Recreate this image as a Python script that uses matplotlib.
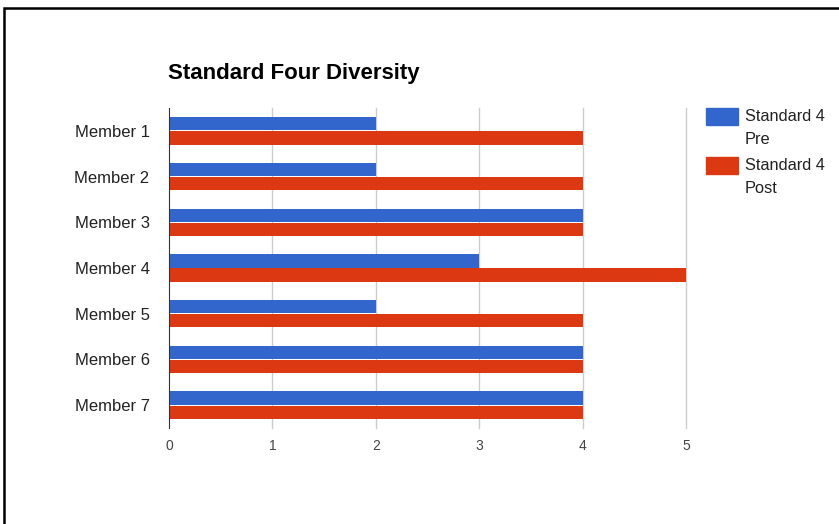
import numpy as np
import matplotlib.pyplot as plt
from matplotlib.patches import Rectangle

plt.rcParams['font.family'] = ['Liberation Sans', 'DejaVu Sans']

# Data
members = ['Member 1', 'Member 2', 'Member 3', 'Member 4', 'Member 5', 'Member 6', 'Member 7']
pre_scores = [2, 2, 4, 3, 2, 4, 4]
post_scores = [4, 4, 4, 5, 4, 4, 4]
series_labels = ['Standard 4\nPre', 'Standard 4\nPost']
x_ticks = [0, 1, 2, 3, 4, 5]

BLUE = '#3366cc'
RED = '#dc3912'
W, H = 839, 524

fig = plt.figure(figsize=(W / 100, H / 100), dpi=100)
ax = fig.add_axes([169 / W, 1 - 428 / H, 517 / W, 320 / H])

y = np.arange(len(members))
bar_h = 0.29
ax.barh(y - 0.155, pre_scores, height=bar_h, color=BLUE, zorder=3)
ax.barh(y + 0.155, post_scores, height=bar_h, color=RED, zorder=3)

ax.set_xlim(0, 5)
ax.set_ylim(len(members) - 0.5, -0.5)
ax.set_yticks(y)
ax.set_yticklabels(members, fontsize=12, color='#222222')
ax.set_xticks(x_ticks)
ax.set_xticklabels([str(t) for t in x_ticks], fontsize=10, color='#444444')
ax.tick_params(axis='both', length=0)
ax.tick_params(axis='y', pad=14)
ax.tick_params(axis='x', pad=8)

# vertical gridlines, drawn by hand so the one at 5 is not clipped
for t in x_ticks[1:]:
    ax.axvline(t, color='#cccccc', linewidth=1, zorder=0, clip_on=False)
for side in ['top', 'right', 'bottom']:
    ax.spines[side].set_visible(False)
ax.spines['left'].set_color('#333333')
ax.spines['left'].set_zorder(4)

fig.text(168 / W, 1 - 73 / H, 'Standard Four Diversity', fontsize=16,
         fontweight='bold', color='#000000', va='center', ha='left')

# legend, drawn by hand to match the swatch size and spacing
legend_colors = [BLUE, RED]
legend_top = [108, 157]
for color, top, label in zip(legend_colors, legend_top, series_labels):
    fig.patches.append(Rectangle((706 / W, 1 - (top + 17) / H), 32 / W, 17 / H,
                                 transform=fig.transFigure, color=color))
    fig.text(745 / W, 1 - (top + 1) / H, label, fontsize=11.8, color='#222222',
             va='top', ha='left', linespacing=1.65)

# outer border of the screenshot
fig.patches.append(Rectangle((4 / W, -0.1), 1.2, 1 - 8 / H + 0.1,
                             transform=fig.transFigure, fill=False,
                             edgecolor='black', linewidth=1.8))

fig.savefig('out.png', dpi=100)
